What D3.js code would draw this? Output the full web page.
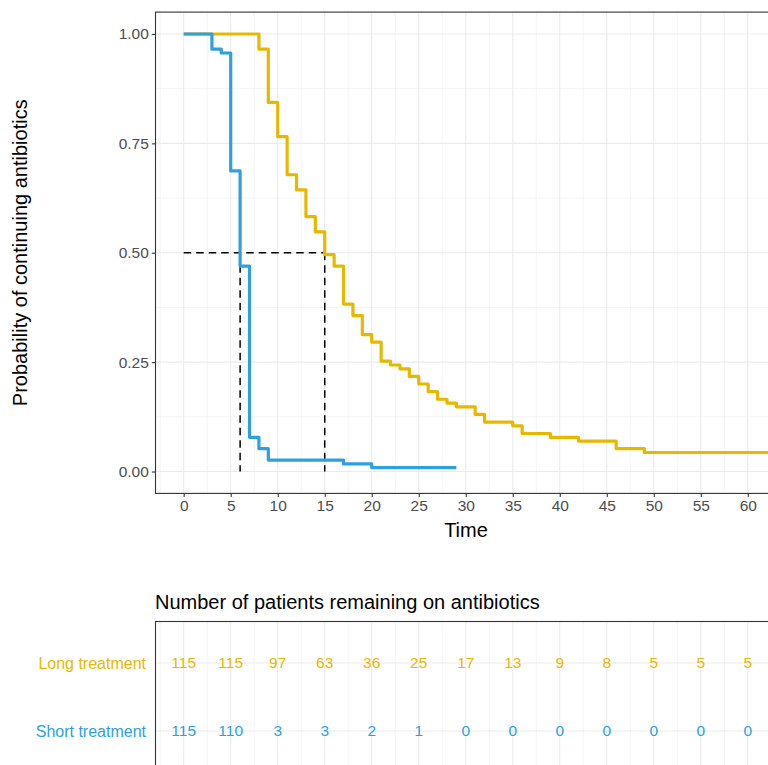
<!DOCTYPE html>
<html><head><meta charset="utf-8">
<script src="https://cdn.jsdelivr.net/npm/d3@7"></script>
<style>body{margin:0;background:#fff;} text{font-family:"Liberation Sans",Arial,sans-serif;}</style>
</head><body><svg id="c" width="768" height="765"></svg>
<script>
// ---- data ----
const groups = ["Long treatment", "Short treatment"];
const groupColors = ["#E7B800", "#2E9FDF"];
// step curves: [time, survival after the step]
const longTimes = [0, 8, 9, 10, 11, 12, 13, 14, 15, 16, 17, 18, 19, 20, 21, 22, 23, 24, 25, 26, 27, 28, 29, 31, 32, 35, 36, 39, 42, 46, 49, 63];
const longSurv  = [1, 111/115, 97/115, 88/115, 78/115, 74/115, 67/115, 63/115, 57/115, 54/115, 44/115, 41/115, 36/115, 34/115, 29/115, 28/115, 27/115, 25/115, 23/115, 21/115, 19/115, 18/115, 17/115, 15/115, 13/115, 12/115, 10/115, 9/115, 8/115, 6/115, 5/115, 5/115];
const shortTimes = [0, 3, 4, 5, 6, 7, 8, 9, 17, 20, 29];
const shortSurv  = [1, 111/115, 110/115, 79/115, 54/115, 9/115, 6/115, 3/115, 2/115, 1/115, 1/115];
const medianTimes = [6, 15];
const xTicks = [0, 5, 10, 15, 20, 25, 30, 35, 40, 45, 50, 55, 60];
const yTicks = [0, 0.25, 0.5, 0.75, 1];
const yTickLabels = ["0.00", "0.25", "0.50", "0.75", "1.00"];
const riskLong  = [115, 115, 97, 63, 36, 25, 17, 13, 9, 8, 5, 5, 5];
const riskShort = [115, 110, 3, 3, 2, 1, 0, 0, 0, 0, 0, 0, 0];

// ---- layout ----
const svg = d3.select("#c");
const x = d3.scaleLinear().domain([-3, 63]).range([155.5, 776]);
const y = d3.scaleLinear().domain([-0.05, 1.05]).range([493.4, 12.1]);
const grid = "#ebebeb";
const FF = '"Liberation Sans", Arial, sans-serif';
const tickFs = "15.5px", titleFs = "20px", riskFs = "16px";

// main panel
const g = svg.append("g");
const minorX = d3.range(-2.5, 63, 5);
const minorY = [0.125, 0.375, 0.625, 0.875];
g.selectAll(".mx").data(minorX).join("line").attr("x1", d => x(d)).attr("x2", d => x(d)).attr("y1", y(1.05)).attr("y2", y(-0.05)).attr("stroke", grid).attr("stroke-width", 0.55);
g.selectAll(".my").data(minorY).join("line").attr("x1", x(-3)).attr("x2", x(63)).attr("y1", d => y(d)).attr("y2", d => y(d)).attr("stroke", grid).attr("stroke-width", 0.55);
g.selectAll(".Mx").data(xTicks).join("line").attr("x1", d => x(d)).attr("x2", d => x(d)).attr("y1", y(1.05)).attr("y2", y(-0.05)).attr("stroke", grid).attr("stroke-width", 1.1);
g.selectAll(".My").data(yTicks).join("line").attr("x1", x(-3)).attr("x2", x(63)).attr("y1", d => y(d)).attr("y2", d => y(d)).attr("stroke", grid).attr("stroke-width", 1.1);

// median dashed lines
const dash = "7.5,5";
g.append("line").attr("x1", x(0)).attr("x2", x(d3.max(medianTimes))).attr("y1", y(0.5)).attr("y2", y(0.5)).attr("stroke", "#000").attr("stroke-width", 1.5).attr("stroke-dasharray", dash);
g.selectAll(".med").data(medianTimes).join("line").attr("x1", d => x(d)).attr("x2", d => x(d)).attr("y1", y(0.5)).attr("y2", y(0)).attr("stroke", "#000").attr("stroke-width", 1.5).attr("stroke-dasharray", dash);

// curves
const line = d3.line().x(d => x(d[0])).y(d => y(d[1])).curve(d3.curveStepAfter);
svg.append("clipPath").attr("id", "pc").append("rect").attr("x", x(-3)).attr("y", y(1.05)).attr("width", x(63) - x(-3)).attr("height", y(-0.05) - y(1.05));
const curves = [d3.zip(longTimes, longSurv), d3.zip(shortTimes, shortSurv)];
g.append("g").attr("clip-path", "url(#pc)").selectAll("path").data(curves).join("path")
  .attr("d", line).attr("fill", "none").attr("stroke", (d, i) => groupColors[i]).attr("stroke-width", 3.2).attr("stroke-linejoin", "round").attr("stroke-linecap", "butt");

// border
g.append("rect").attr("x", x(-3)).attr("y", y(1.05)).attr("width", x(63) - x(-3)).attr("height", y(-0.05) - y(1.05)).attr("fill", "none").attr("stroke", "#333").attr("stroke-width", 1.1);

// axes
const xAxis = d3.axisBottom(x).tickValues(xTicks).tickSize(3.7).tickPadding(3);
const xa = svg.append("g").attr("transform", `translate(0,${y(-0.05)})`).call(xAxis);
const yAxis = d3.axisLeft(y).tickValues(yTicks).tickFormat((d, i) => yTickLabels[i]).tickSize(3.7).tickPadding(3);
const ya = svg.append("g").attr("transform", `translate(${x(-3)},0)`).call(yAxis);
[xa, ya].forEach(a => {
  a.attr("font-size", null).attr("font-family", null);
  a.select(".domain").remove();
  a.selectAll(".tick line").attr("stroke", "#333").attr("stroke-width", 1.1);
  a.selectAll(".tick text").attr("fill", "#4d4d4d").style("font-size", tickFs).style("font-family", FF);
});
svg.append("text").attr("x", 466).attr("y", 537).attr("text-anchor", "middle").style("font-size", titleFs).style("font-family", FF).attr("fill", "#000").text("Time");
svg.append("text").attr("transform", `translate(27,${y(0.5)}) rotate(-90)`).attr("text-anchor", "middle").style("font-size", titleFs).style("font-family", FF).attr("fill", "#000").text("Probability of continuing antibiotics");

// risk table
const ry = d3.scalePoint().domain(groups).range([663, 731]);
const rt = svg.append("g");
const rTop = 621.5, rBot = 772;
rt.selectAll(".rmx").data(minorX).join("line").attr("x1", d => x(d)).attr("x2", d => x(d)).attr("y1", rTop).attr("y2", rBot).attr("stroke", grid).attr("stroke-width", 0.55);
rt.selectAll(".rMx").data(xTicks).join("line").attr("x1", d => x(d)).attr("x2", d => x(d)).attr("y1", rTop).attr("y2", rBot).attr("stroke", grid).attr("stroke-width", 1.1);
rt.selectAll(".rMy").data(groups).join("line").attr("x1", x(-3)).attr("x2", x(63)).attr("y1", d => ry(d)).attr("y2", d => ry(d)).attr("stroke", grid).attr("stroke-width", 1.1);
const riskRows = [riskLong, riskShort];
groups.forEach((gname, gi) => {
  rt.selectAll(".rv" + gi).data(xTicks).join("text").attr("x", d => x(d)).attr("y", ry(gname)).attr("dy", "0.35em")
    .attr("text-anchor", "middle").style("font-size", tickFs).style("font-family", FF).attr("fill", groupColors[gi]).text((d, i) => riskRows[gi][i]);
  rt.append("text").attr("x", 146).attr("y", ry(gname)).attr("dy", "0.35em").attr("text-anchor", "end").style("font-size", riskFs).style("font-family", FF).attr("fill", groupColors[gi]).text(gname);
});
rt.append("rect").attr("x", x(-3)).attr("y", rTop).attr("width", x(63) - x(-3)).attr("height", rBot - rTop).attr("fill", "none").attr("stroke", "#333").attr("stroke-width", 1.1);
svg.append("text").attr("x", 155).attr("y", 609).style("font-size", titleFs).style("font-family", FF).attr("fill", "#000").text("Number of patients remaining on antibiotics");
</script></body></html>
